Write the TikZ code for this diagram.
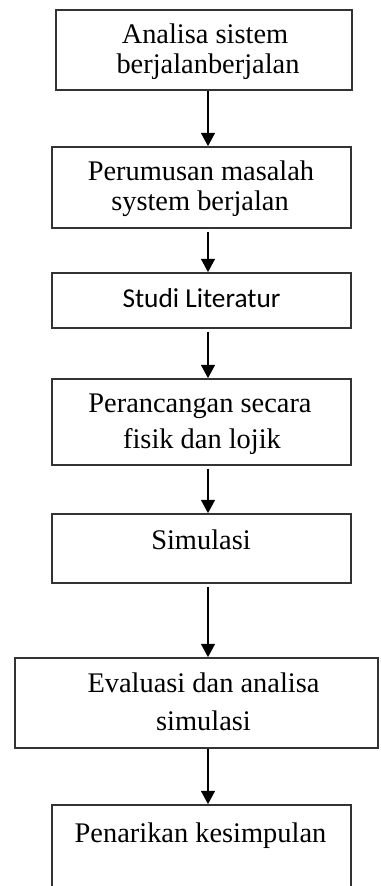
\documentclass[tikz,border=0pt]{standalone}
\usepackage{fontspec}
\setmainfont{Liberation Serif}
\newfontfamily\labelsans{Carlito}
\usetikzlibrary{arrows.meta}
\begin{document}
\begin{tikzpicture}[x=0.75pt,y=-0.75pt,
  stepbox/.style={draw=black!80,line width=1.3pt,rectangle,inner sep=0pt},
  steptext/.style={anchor=base,inner sep=0pt,font=\fontsize{21.3}{25}\selectfont},
  steptextsans/.style={anchor=base,inner sep=0pt,font=\labelsans\fontsize{20.5}{24}\selectfont},
  flow/.style={line width=1.1pt,-{Triangle[length=10pt,width=10.5pt]}}]
\useasboundingbox (0,0) rectangle (380,886);
\clip (0,0) rectangle (380,886);
% boxes
\node[stepbox,minimum width=222pt,minimum height=60pt] (b1) at (204,50) {};
\node[stepbox,minimum width=224.25pt,minimum height=60.75pt] (b2) at (201.5,187.5) {};
\node[stepbox,minimum width=224.25pt,minimum height=41.25pt] (b3) at (201.5,300.5) {};
\node[stepbox,minimum width=224.25pt,minimum height=64.5pt] (b4) at (201.5,422) {};
\node[stepbox,minimum width=224.25pt,minimum height=51.75pt] (b5) at (201.5,548.5) {};
\node[stepbox,minimum width=272.25pt,minimum height=67.5pt] (b6) at (196.5,703) {};
\node[stepbox,minimum width=224.25pt,minimum height=86.25pt] (b7) at (201.5,862.5) {};
% labels
\node[steptext] (t1a) at (205,43) {Analisa sistem};
\node[steptext] (t1b) at (208,73) {berjalanberjalan};
\node[steptext] (t2a) at (201,180) {Perumusan masalah};
\node[steptext] (t2b) at (200,210) {system berjalan};
\node[steptextsans] (t3) at (201.5,307) {Studi Literatur};
\node[steptext] (t4a) at (200,412) {Perancangan secara};
\node[steptext] (t4b) at (202,448) {fisik dan lojik};
\node[steptext] (t5) at (201,549) {Simulasi};
\node[steptext] (t6a) at (203.5,692) {Evaluasi dan analisa};
\node[steptext] (t6b) at (203.5,730) {simulasi};
\node[steptext] (t7) at (200.5,842) {Penarikan kesimpulan};
% arrows
\coordinate (axis) at (208,0);
\draw[flow] (b1.south -| axis) -- (b2.north -| axis);
\draw[flow,shorten <=2pt] (b2.south -| axis) -- (b3.north -| axis);
\draw[flow,shorten <=2pt] (b3.south -| axis) -- (b4.north -| axis);
\draw[flow,shorten <=2pt] (b4.south -| axis) -- (b5.north -| axis);
\draw[flow,shorten <=2pt] (b5.south -| axis) -- (b6.north -| axis);
\draw[flow] (b6.south -| axis) -- (b7.north -| axis);
\end{tikzpicture}
\end{document}
